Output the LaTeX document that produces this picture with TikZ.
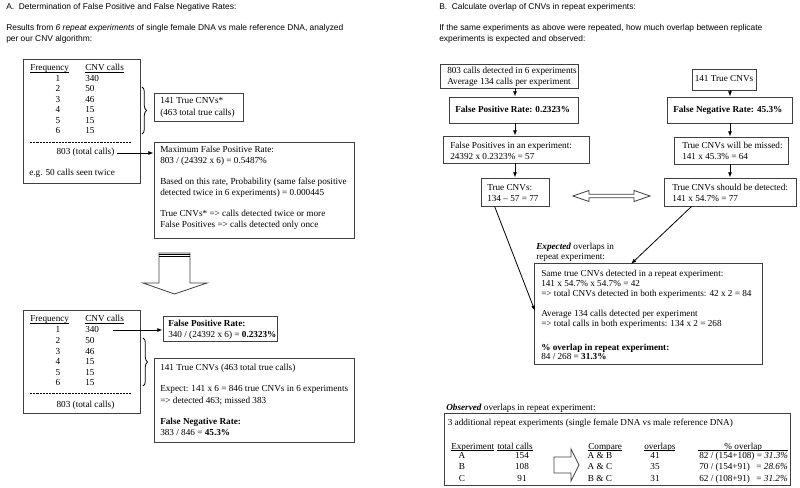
\documentclass[tikz,border=0pt]{standalone}
\usepackage{fontspec}
\setmainfont{Liberation Serif}
\newfontfamily\hsans{Liberation Sans}
\usetikzlibrary{fit,arrows.meta,decorations.pathreplacing,calc}
\newcommand\ulx[1]{\setbox0\hbox{#1}\rlap{\rule[-1.1pt]{\wd0}{0.4pt}}\box0}
\begin{document}
\begin{tikzpicture}[x=0.75pt,y=-0.75pt,
  bx/.style={draw=black!75, line width=0.6pt, inner sep=0pt},
  tx/.style={anchor=base west, inner sep=0pt, font=\fontsize{6.9}{8.3}\selectfont},
  tc/.style={anchor=base, inner sep=0pt, font=\fontsize{6.9}{8.3}\selectfont},
  te/.style={anchor=base east, inner sep=0pt, font=\fontsize{6.9}{8.3}\selectfont},
  hd/.style={anchor=base west, inner sep=0pt, font=\hsans\fontsize{6.3}{8.3}\selectfont},
  arr/.style={-{Latex[length=4pt,width=3pt]}, line width=0.6pt},
  ln/.style={line width=0.6pt},
  brc/.style={decorate, decoration={brace, amplitude=3.5pt}, line width=0.6pt},
  blk/.style={draw=black!75, line width=0.6pt, fill=white},
  dsh/.style={dash pattern=on 1.6pt off 0.8pt, line width=0.5pt}]
\useasboundingbox (0,0) rectangle (800,488);

% ---------------- Section A ----------------
\node[hd] (ha) at (6,10) {A.\ \ Determination of False Positive and False Negative Rates:};
\node[hd] (ha1) at (6,31) {Results from \textit{6 repeat experiments} of single female DNA vs male reference DNA, analyzed};
\node[hd] (ha2) at (6,42) {per our CNV algorithm:};

% table 1
\node[bx, fit={(23,59) (140,183)}] (t1) {};
\node[tx] (t1h1) at (30,71) {\ulx{Frequency}};
\node[tx] (t1h2) at (85,71) {\ulx{CNV calls}};
\foreach \f/\v [count=\i from 0] in {1/340,2/50,3/46,4/15,5/15,6/15}{
  \node[tc] (t1f\f) at (58,81.5+10.5*\i) {\f};
  \node[tx] (t1v\f) at (85,81.5+10.5*\i) {\v};
}
\draw[dsh] (30,142) -- (132,142);
\node[tc] (tot1) at (85.5,155) {803 (total calls)};
\node[tx] (eg) at (29,176) {e.g. 50 calls seen twice};

\draw[brc] (142,87) -- (142,134);

\node[bx, fit={(154,93) (243,121)}] (t2) {};
\node[tx] (t2a) at (160,104) {141 True CNVs*};
\node[tx] (t2b) at (160,116) {(463 total true calls)};

\node[bx, fit={(154,142) (354,238)}] (t3) {};
\node[tx] (t3a) at (160,153) {Maximum False Positive Rate:};
\node[tx] (t3b) at (160,164) {803 / (24392 x 6) = 0.5487\%};
\node[tx] (t3c) at (160,185) {Based on this rate, Probability (same false positive};
\node[tx] (t3d) at (160,196) {detected twice in 6 experiments) = 0.000445};
\node[tx] (t3e) at (160,217) {True CNVs* => calls detected twice or more};
\node[tx] (t3f) at (160,228) {False Positives => calls detected only once};

\coordinate (fp1) at (117,153);
\draw[arr] (fp1) -- (fp1 -| t3.west);

% block down arrow
\draw[blk] (159,253) -- (190,253) -- (190,283) -- (207,283) -- (174.5,294) -- (143,283) -- (159,283) -- cycle;
\draw[ln] (159,254) -- (190,254);
\draw[ln] (159,256.5) -- (190,256.5);

% table 2
\node[bx, fit={(23,310) (140,413)}] (t4) {};
\node[tx] (t4h1) at (30,322) {\ulx{Frequency}};
\node[tx] (t4h2) at (85,322) {\ulx{CNV calls}};
\foreach \f/\v [count=\i from 0] in {1/340,2/50,3/46,4/15,5/15,6/15}{
  \node[tc] (t4f\f) at (58,333+10.5*\i) {\f};
  \node[tx] (t4v\f) at (85,333+10.5*\i) {\v};
}
\draw[dsh] (30,393) -- (132,393);
\node[tc] (tot2) at (85.5,407) {803 (total calls)};

\node[bx, fit={(163,316) (277,341)}] (t5) {};
\node[tx] (t5a) at (168,327) {\textbf{False Positive Rate:}};
\node[tx] (t5b) at (168,338) {340 / (24392 x 6) = \textbf{0.2323\%}};
\coordinate (fp2) at (113,330);
\draw[arr] (fp2) -- (fp2 -| t5.west);

\draw[brc] (143,338) -- (143,386);

\node[bx, fit={(154,358) (354,442)}] (t6) {};
\node[tx] (t6a) at (160,370) {141 True CNVs (463 total true calls)};
\node[tx] (t6b) at (160,392) {Expect: 141 x 6 = 846 true CNVs in 6 experiments};
\node[tx] (t6c) at (160,403) {=> detected 463; missed 383};
\node[tx] (t6d) at (160,424) {\textbf{False Negative Rate:}};
\node[tx] (t6e) at (160,435) {383 / 846 = \textbf{45.3\%}};

% ---------------- Section B ----------------
\node[hd] (hb) at (439,10) {B.\ \ Calculate overlap of CNVs in repeat experiments:};
\node[hd] (hb1) at (439,31) {If the same experiments as above were repeated, how much overlap between replicate};
\node[hd] (hb2) at (439,42) {experiments is expected and observed:};

\node[bx, fit={(440,64) (578,88)}] (b1) {};
\node[tx] (b1a) at (447,74) {803 calls detected in 6 experiments};
\node[tx] (b1b) at (447,85) {Average 134 calls per experiment};

\node[bx, fit={(449,97) (578,123)}] (b2) {};
\node[tx] (b2a) at (455,113) {\textbf{False Positive Rate: 0.2323\%}};

\node[bx, fit={(443,136) (589,163)}] (b3) {};
\node[tx] (b3a) at (450,149) {False Positives in an experiment:};
\node[tx] (b3b) at (450,160) {24392 x 0.2323\% = 57};

\node[bx, fit={(481,178) (549,206)}] (b4) {};
\node[tx] (b4a) at (487,191) {True CNVs:};
\node[tx] (b4b) at (487,202) {134 -- 57 = 77};

\draw[arr] (b1.south -| b4.north) -- (b2.north -| b4.north);
\draw[arr] (b2.south -| b4.north) -- (b3.north -| b4.north);
\draw[arr] (b3.south -| b4.north) -- (b4.north);

\node[bx, fit={(692,69) (756,90)}] (r1) {};
\node[tc] (r1a) at (724,82) {141 True CNVs};

\node[bx, fit={(667,97) (792,123)}] (r2) {};
\node[tx] (r2a) at (673,113) {\textbf{False Negative Rate: 45.3\%}};

\node[bx, fit={(674,137) (788,164)}] (r3) {};
\node[tx] (r3a) at (682,149) {True CNVs will be missed:};
\node[tx] (r3b) at (682,160) {141 x 45.3\% = 64};

\node[bx, fit={(664,178) (796,206)}] (r4) {};
\node[tx] (r4a) at (672,191) {True CNVs should be detected:};
\node[tx] (r4b) at (672,202) {141 x 54.7\% = 77};

\draw[arr] (r1.south -| r4.north) -- (r2.north -| r4.north);
\draw[arr] (r2.south -| r4.north) -- (r3.north -| r4.north);
\draw[arr] (r3.south -| r4.north) -- (r4.north);

% double block arrow
\draw[blk] (573,196) -- (589,190.5) -- (589,194.3) -- (634,194.3) -- (634,190.5) -- (650,196)
  -- (634,201.5) -- (634,197.7) -- (589,197.7) -- (589,201.5) -- cycle;

% expected box
\node[tx] (exa) at (536,250) {\textbf{\textit{Expected}} overlaps in};
\node[tx] (exb) at (536,260) {repeat experiment:};
\node[bx, fit={(534,263) (762,364)}] (e) {};
\node[tx] (ea) at (541,277) {Same true CNVs detected in a repeat experiment:};
\node[tx] (eb) at (541,286.5) {141 x 54.7\% x 54.7\% = 42};
\node[tx] (ec) at (541,296.5) {=> total CNVs detected in both experiments: 42 x 2 = 84};
\node[tx] (ed) at (541,317) {Average 134 calls detected per experiment};
\node[tx] (ee) at (541,327) {=> total calls in both experiments: 134 x 2 = 268};
\node[tx] (ef) at (541,350) {\textbf{\% overlap in repeat experiment:}};
\node[tx] (eg2) at (541,360) {84 / 268 = \textbf{31.3\%}};

\coordinate (eL) at (535,311);
\coordinate (eR) at (631,264);
\draw[arr] ($(b4.south west)+(14,0)$) -- (eL);
\draw[arr] ($(r4.south west)+(28,0)$) -- (eR);

% observed box
\node[tx] (oba) at (446,411) {\textbf{\textit{Observed}} overlaps in repeat experiment:};
\node[bx, fit={(444,413) (790,485)}] (o) {};
\node[tx] (oa) at (447.5,426) {3 additional repeat experiments (single female DNA vs male reference DNA)};
\node[tx] (oh1) at (451,449) {\ulx{Experiment}};
\node[tx] (oh2) at (497,449) {\ulx{total calls}};
\node[tx] (oh3) at (588,449) {\ulx{Compare}};
\node[tx] (oh4) at (644,449) {\ulx{overlaps}};
\node[tx] (oh5) at (698,449) {\ulx{\hbox to 67.5pt{\hfil\% overlap\hfil}}};

\node[tc] (oeA) at (462,458) {A};
\node[tc] (oeB) at (462,469.5) {B};
\node[tc] (oeC) at (462,481) {C};
\node[tc] (otA) at (522,458) {154};
\node[tc] (otB) at (522,469.5) {108};
\node[tc] (otC) at (522,481) {91};
\node[tc] (ocA) at (600,458) {A \& B};
\node[tc] (ocB) at (600,469.5) {A \& C};
\node[tc] (ocC) at (600,481) {B \& C};
\node[tc] (ooA) at (655,458) {41};
\node[tc] (ooB) at (655,469.5) {35};
\node[tc] (ooC) at (655,481) {31};
\node[tx] (opA) at (699,458) {82 / (154+108) = \textit{31.3\%}};
\node[tx] (opB) at (699,469.5) {70 / (154+91)};
\node[tx] (opC) at (699,481) {62 / (108+91)};
\node[te] (oqB) at (788,469.5) {= \textit{28.6\%}};
\node[te] (oqC) at (788,481) {= \textit{31.2\%}};

% block right arrow
\draw[blk] (554,457) -- (571,457) -- (571,449) -- (579,465) -- (571,481) -- (571,473) -- (554,473) -- cycle;

\end{tikzpicture}
\end{document}
